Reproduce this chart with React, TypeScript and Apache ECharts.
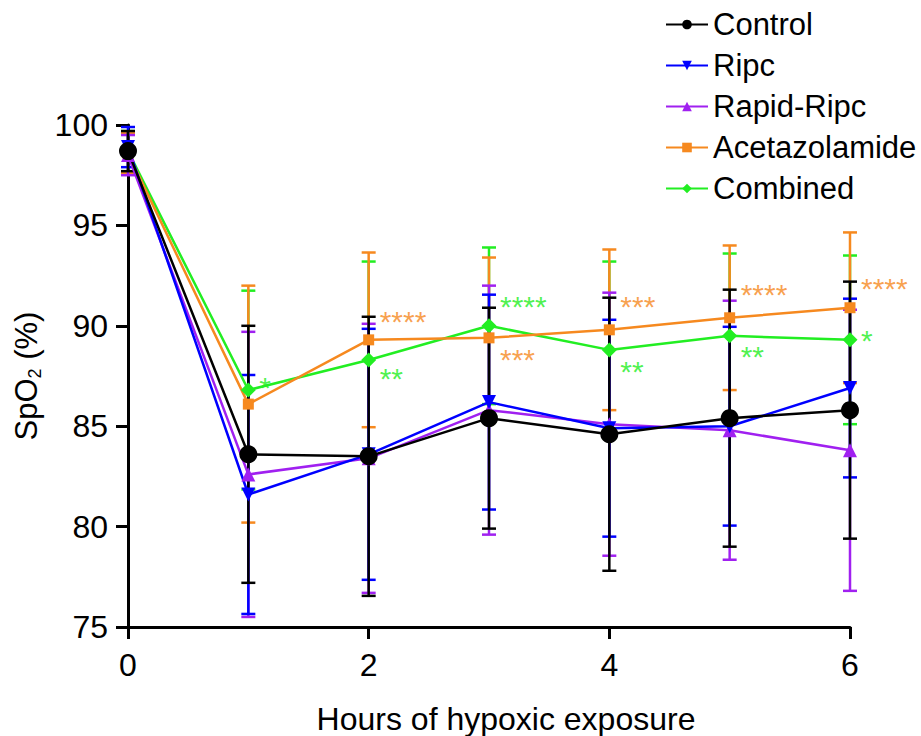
import React, { useEffect, useRef } from "react";
import * as echarts from "echarts";

const hours = [0, 1, 2, 3, 4, 5, 6];
const seriesNames = ["Control", "Ripc", "Rapid-Ripc", "Acetazolamide", "Combined"];

const controlMean = [98.7, 83.6, 83.5, 85.4, 84.6, 85.4, 85.8];
const controlSd = [1.0, 6.4, 6.95, 5.5, 6.8, 6.4, 6.4];
const ripcMean = [98.9, 81.6, 83.6, 86.2, 84.9, 85.0, 86.9];
const ripcSd = [1.0, 5.95, 6.25, 5.35, 5.4, 4.95, 4.45];
const rapidMean = [98.5, 82.6, 83.4, 85.8, 85.1, 84.8, 83.8];
const rapidSd = [1.0, 7.1, 6.7, 6.2, 6.55, 6.45, 7.0];
const acetMean = [98.6, 86.1, 89.3, 89.4, 89.8, 90.4, 90.9];
const acetSd = [1.0, 5.9, 4.35, 4.0, 4.0, 3.6, 3.75];
const combMean = [98.7, 86.8, 88.3, 90.0, 88.8, 89.5, 89.3];
const combSd = [1.0, 4.95, 4.9, 3.9, 4.4, 4.1, 4.2];

// significance annotations: [hour, y position, text]
const sigAcet: [number, number, string][] = [
  [2, 90.45, "****"],
  [3, 88.55, "***"],
  [4, 91.2, "***"],
  [5, 91.8, "****"],
  [6, 92.1, "****"],
];
const sigComb: [number, number, string][] = [
  [1, 87.2, "*"],
  [2, 87.6, "**"],
  [3, 91.2, "****"],
  [4, 87.95, "**"],
  [5, 88.7, "**"],
  [6, 89.5, "*"],
];

const xTicks = [0, 2, 4, 6];

const FONT = "Liberation Sans, Arial, sans-serif";

export default function App() {
  const ref = useRef<HTMLDivElement>(null);
  useEffect(() => {
    document.body.style.margin = "0";
    const chart = echarts.init(ref.current!, null, { renderer: "svg" });

    const defs = [
      { name: "Combined", mean: combMean, sd: combSd, color: "#22ee22", symbol: "diamond", size: 15, rot: 0 },
      { name: "Acetazolamide", mean: acetMean, sd: acetSd, color: "#f6891f", symbol: "rect", size: 11, rot: 0 },
      { name: "Rapid-Ripc", mean: rapidMean, sd: rapidSd, color: "#a020f0", symbol: "triangle", size: 14, rot: 0 },
      { name: "Ripc", mean: ripcMean, sd: ripcSd, color: "#0000ff", symbol: "triangle", size: 14, rot: 180 },
      { name: "Control", mean: controlMean, sd: controlSd, color: "#000000", symbol: "circle", size: 18, rot: 0 },
    ];

    const errSeries = defs.map((d) => ({
      type: "custom",
      name: d.name + "-err",
      z: 2,
      clip: false,
      data: hours.map((h, i) => [h, d.mean[i] - d.sd[i], d.mean[i] + d.sd[i]]),
      renderItem: (params: any, api: any) => {
        const x = api.value(0);
        const lo = api.coord([x, api.value(1)]);
        const hi = api.coord([x, api.value(2)]);
        const w = 7;
        const style = { stroke: d.color, lineWidth: 2.5, fill: "none" };
        return {
          type: "group",
          children: [
            { type: "line", shape: { x1: hi[0], y1: hi[1], x2: lo[0], y2: lo[1] }, style },
            { type: "line", shape: { x1: hi[0] - w, y1: hi[1], x2: hi[0] + w, y2: hi[1] }, style },
            { type: "line", shape: { x1: lo[0] - w, y1: lo[1], x2: lo[0] + w, y2: lo[1] }, style },
          ],
        };
      },
    }));

    const lineSeries = defs.map((d) => ({
      type: "line",
      name: d.name,
      z: 3,
      data: hours.map((h, i) => [h, d.mean[i]]),
      symbol: d.symbol,
      symbolSize: d.size,
      symbolRotate: d.rot,
      showAllSymbol: true,
      lineStyle: { color: d.color, width: 2.5 },
      itemStyle: { color: d.color, borderWidth: 0 },
      emphasis: { disabled: true },
    }));

    const sigSeries = [
      { data: sigAcet, color: "#f6891f" },
      { data: sigComb, color: "#22ee22" },
    ].map((s) => ({
      type: "scatter",
      z: 4,
      symbolSize: 0,
      silent: true,
      data: s.data.map((a) => [a[0], a[1], a[2]]),
      label: {
        show: true,
        position: "right",
        distance: 11,
        offset: [0, 5],
        color: s.color,
        fontSize: 30,
        fontFamily: FONT,
        formatter: (p: any) => p.value[2],
      },
    }));

    chart.setOption({
      animation: false,
      textStyle: { fontFamily: FONT },
      grid: { left: 128, right: 71, top: 125, bottom: 109, containLabel: false, outerBoundsMode: "none" },
      legend: {
        data: seriesNames,
        orient: "vertical",
        left: 660,
        top: 4,
        itemWidth: 42,
        itemHeight: 12,
        itemGap: 10,
        textStyle: { fontSize: 31, color: "#000", fontFamily: FONT },
        selectedMode: false,
      },
      xAxis: {
        type: "value",
        min: 0,
        max: 6,
        interval: 2,
        name: "Hours of hypoxic exposure",
        nameLocation: "middle",
        nameGap: 76,
        nameTextStyle: { fontSize: 32, color: "#000", fontFamily: FONT, padding: [0, 0, 0, 34] },
        axisLine: { lineStyle: { color: "#000", width: 3 } },
        axisTick: { length: 12, lineStyle: { color: "#000", width: 3 }, customValues: xTicks },
        axisLabel: { fontSize: 32, color: "#000", margin: 22, fontFamily: FONT, customValues: xTicks },
        splitLine: { show: false },
      },
      yAxis: {
        type: "value",
        min: 75,
        max: 100,
        interval: 5,
        name: "{a|SpO}{b|2}{a| (%)}",
        nameLocation: "middle",
        nameGap: 76,
        nameRotate: 90,
        nameTextStyle: {
          rich: {
            a: { fontSize: 31, color: "#000", fontFamily: FONT },
            b: { fontSize: 18, color: "#000", fontFamily: FONT, padding: [16, 0, 0, 0] },
          },
        },
        axisLine: { show: true, lineStyle: { color: "#000", width: 3 } },
        axisTick: { show: true, length: 12, lineStyle: { color: "#000", width: 3 } },
        axisLabel: { fontSize: 32, color: "#000", margin: 20, fontFamily: FONT },
        splitLine: { show: false },
      },
      series: [...errSeries, ...lineSeries, ...sigSeries],
    });
    return () => chart.dispose();
  }, []);
  return <div ref={ref} style={{ width: 921, height: 736 }} />;
}
